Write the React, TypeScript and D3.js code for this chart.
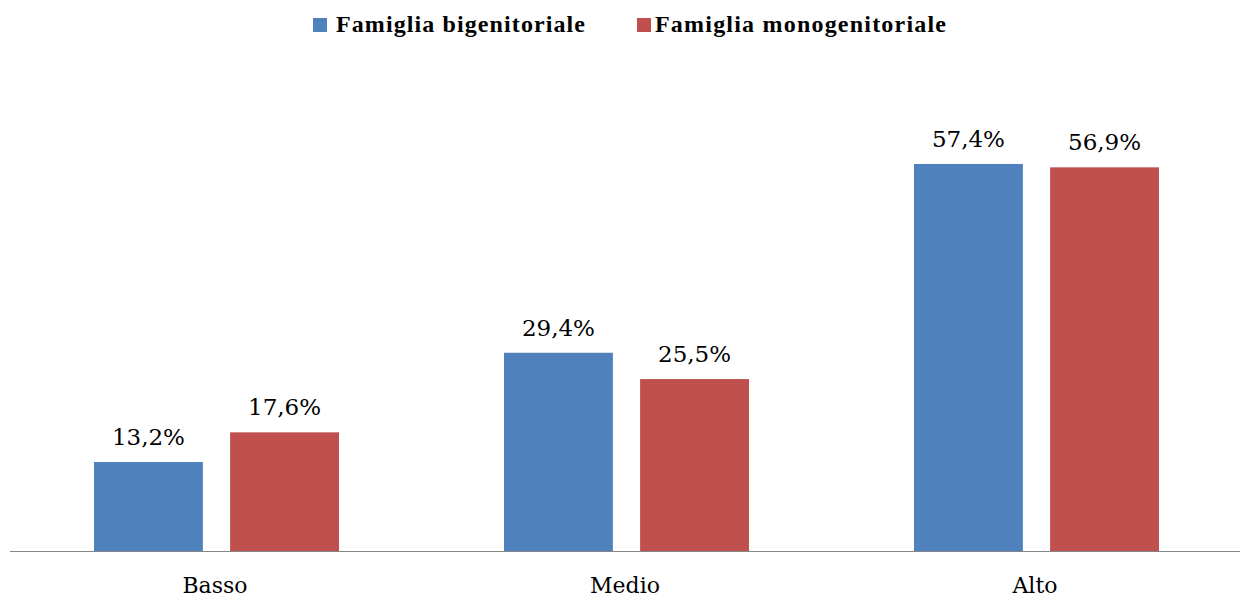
import React from 'react';
import * as d3 from 'd3';

const categories = ['Basso', 'Medio', 'Alto'];
const seriesNames = ['Famiglia bigenitoriale', 'Famiglia monogenitoriale'];
const bigenitoriale = [13.2, 29.4, 57.4];
const monogenitoriale = [17.6, 25.5, 56.9];
const colors = ['#4F81BD', '#C0504D'];

const width = 1240;
const height = 598;
const baseY = 551;

const fmt = (v: number) => v.toFixed(1).replace('.', ',') + '%';

const App = () => {
  const values = [bigenitoriale, monogenitoriale];

  const x0 = d3.scaleBand<string>().domain(categories).range([10, 1240]);
  const x1 = d3.scaleBand<string>().domain(seriesNames).range([84, 329]).paddingInner(0.2);
  const y = d3.scaleLinear().domain([0, 70]).range([baseY, 79]);

  // legend positions (square x, text x, text length)
  const legend = [
    { sq: 313, tx: 336, len: 249 },
    { sq: 637, tx: 655, len: 291 },
  ];

  return (
    <svg width={width} height={height} style={{ position: 'absolute', left: 0, top: 0 }}>
      <rect width={width} height={height} fill="#fff" />
      {legend.map((l, i) => (
        <g key={seriesNames[i]}>
          <rect x={l.sq} y={18} width={14} height={14} fill={colors[i]} />
          <text
            x={l.tx}
            y={32}
            fontFamily="'Liberation Serif', serif"
            fontWeight="bold"
            fontSize={24}
            textLength={l.len}
            lengthAdjust="spacing"
            fill="#000"
          >
            {seriesNames[i]}
          </text>
        </g>
      ))}
      {categories.map((c, ci) => (
        <g key={c} transform={`translate(${x0(c)},0)`}>
          {seriesNames.map((s, si) => {
            const v = values[si][ci];
            const bx = x1(s) as number;
            return (
              <g key={s}>
                <rect x={bx} y={y(v)} width={x1.bandwidth()} height={baseY - y(v)} fill={colors[si]} />
                <text
                  x={bx + x1.bandwidth() / 2}
                  y={y(v) - 17}
                  textAnchor="middle"
                  fontFamily="'DejaVu Serif', serif"
                  fontSize={23}
                  fill="#000"
                >
                  {fmt(v)}
                </text>
              </g>
            );
          })}
          <text
            x={x0.bandwidth() / 2}
            y={593}
            textAnchor="middle"
            fontFamily="'DejaVu Serif', serif"
            fontSize={22}
            fill="#000"
          >
            {c}
          </text>
        </g>
      ))}
      <line x1={10} x2={1240} y1={baseY + 0.5} y2={baseY + 0.5} stroke="#868686" strokeWidth={1} />
    </svg>
  );
};

export default App;
